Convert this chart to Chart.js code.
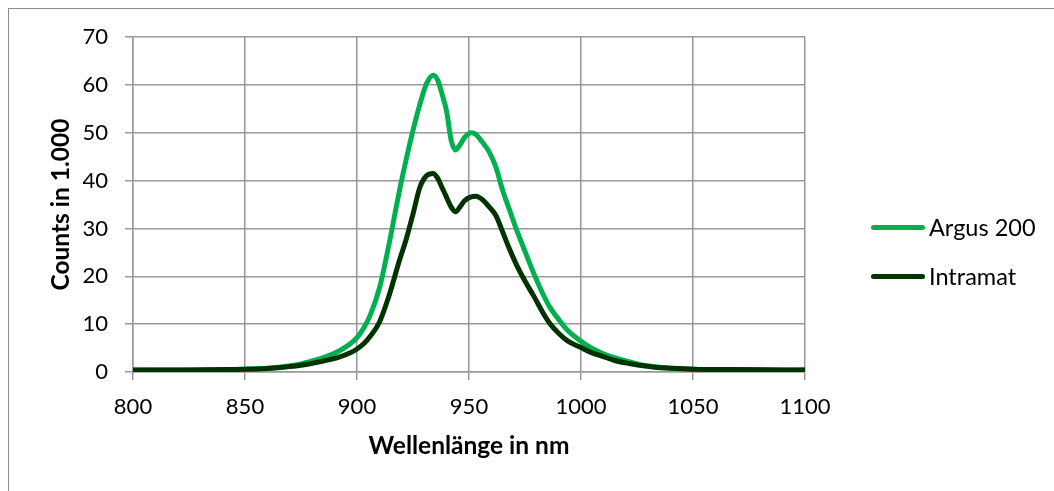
<!DOCTYPE html>
<html lang="de">
<head>
  <meta charset="UTF-8">
  <title>Counts vs. Wellenlänge</title>
  <script src="https://cdn.jsdelivr.net/npm/chart.js"></script>
  <style>
    body { margin: 0; background: #fff; font-family: Lato, sans-serif; }
    #wrap { position: relative; width: 1054px; height: 491px; overflow: hidden; }
    #frame { position: absolute; left: 8px; top: 8px; width: 1100px; height: 600px; border: 1px solid #8c8c8c; }
    canvas { position: absolute; left: 0; top: 0; }
    .leg { position: absolute; left: 871px; height: 26px; display: flex; align-items: center; font-size: 23.5px; color: #000; white-space: nowrap; }
    .leg span.line { display: inline-block; width: 54px; height: 5px; border-radius: 3px; margin-right: 4px; }
  </style>
</head>
<body>
  <div id="wrap">
    <div id="frame"></div>
    <canvas id="grafik" width="1054" height="491"></canvas>
    <div id="legende"></div>
  </div>

  <script>
    // Werte
    const wellenlaenge = [800, 820, 840, 850, 860, 867, 875, 880, 885, 892, 897, 900, 903, 906, 910, 914, 919, 922, 925, 928,
      931, 934, 936, 938, 940, 942, 944, 946, 948, 951, 953, 956, 959, 962, 965, 968, 971, 975, 979, 983,
      986, 990, 994, 1000, 1005, 1010, 1015, 1020, 1026, 1033, 1040, 1050, 1070, 1100];

    const argus200 = [0.4, 0.4, 0.5, 0.6, 0.8, 1.1, 1.7, 2.3, 3.0, 4.4, 5.9, 7.2, 9.2, 12.0, 17.5, 26, 38, 44.5, 50.5, 55.8,
      60.2, 62, 61, 58, 54.5, 48.5, 46.4, 47.5, 49, 50, 49.7, 48, 46, 42.8, 38, 34, 30, 25.2, 20.5, 16.3,
      13.6, 11.0, 8.7, 6.4, 4.9, 3.8, 3.0, 2.3, 1.6, 1.1, 0.8, 0.6, 0.5, 0.4];

    const intramat = [0.4, 0.4, 0.5, 0.55, 0.75, 1.0, 1.4, 1.8, 2.3, 3.1, 4.0, 4.8, 5.9, 7.5, 10.4, 15.5, 23.4, 27.8, 33, 38.5,
      41, 41.5, 40.5, 38.5, 36.5, 34.5, 33.5, 34.5, 35.8, 36.6, 36.7, 36, 34.5, 32.7, 29.3, 25.8, 22.6, 19, 15.8, 12.4,
      10.2, 8.1, 6.5, 5.1, 4.0, 3.2, 2.4, 1.9, 1.4, 1.0, 0.8, 0.6, 0.5, 0.4];

    const serien = ['Argus 200', 'Intramat'];
    const farben = ['#00b050', '#003300'];

    const xTicks = [800, 850, 900, 950, 1000, 1050, 1100];
    const yTicks = [0, 10, 20, 30, 40, 50, 60, 70];

    function punkte(werte) {
      return wellenlaenge.map((x, i) => ({ x: x, y: werte[i] }));
    }

    const gitter = '#999999';
    const schrift = { family: 'Lato', size: 22 };
    const titelSchrift = { family: 'Lato', size: 24.5, weight: 'bold' };

    new Chart(document.getElementById('grafik'), {
      type: 'line',
      data: {
        datasets: [
          { label: serien[0], data: punkte(argus200), borderColor: farben[0], order: 1 },
          { label: serien[1], data: punkte(intramat), borderColor: farben[1], order: 0 }
        ]
      },
      options: {
        responsive: false,
        animation: false,
        layout: { padding: { left: 0, top: 37, right: 249, bottom: 0 } },
        elements: {
          point: { radius: 0 },
          line: { borderWidth: 5, tension: 0.4, cubicInterpolationMode: 'monotone', fill: false, borderCapStyle: 'round', borderJoinStyle: 'round' }
        },
        plugins: { legend: { display: false }, tooltip: { enabled: false } },
        scales: {
          x: {
            type: 'linear',
            min: xTicks[0],
            max: xTicks[xTicks.length - 1],
            afterBuildTicks: s => { s.ticks = xTicks.map(v => ({ value: v })); },
            afterFit: s => { s.height = 119; },
            ticks: { color: '#000', font: schrift, padding: 14, maxRotation: 0, callback: v => String(v) },
            grid: { color: gitter, lineWidth: 1.5, tickLength: 8 },
            border: { color: gitter, width: 1.5 },
            title: { display: true, text: 'Wellenlänge in nm', color: '#000', font: titelSchrift, padding: { top: 30, bottom: 30 } }
          },
          y: {
            min: yTicks[0],
            max: yTicks[yTicks.length - 1],
            afterBuildTicks: s => { s.ticks = yTicks.map(v => ({ value: v })); },
            afterFit: s => { s.width = 133; },
            ticks: { color: '#000', font: schrift, padding: 17, callback: v => String(v) },
            grid: { color: gitter, lineWidth: 1.5, tickLength: 8 },
            border: { color: gitter, width: 1.5 },
            title: { display: true, text: 'Counts in 1.000', color: '#000', font: titelSchrift, padding: { top: 46, bottom: 46 } }
          }
        }
      }
    });

    // Legende rechts
    const legende = document.getElementById('legende');
    const legY = [227, 276];
    serien.forEach((name, i) => {
      const d = document.createElement('div');
      d.className = 'leg';
      d.style.top = (legY[i] - 13) + 'px';
      const l = document.createElement('span');
      l.className = 'line';
      l.style.background = farben[i];
      d.appendChild(l);
      d.appendChild(document.createTextNode(name));
      legende.appendChild(d);
    });
  </script>
</body>
</html>
